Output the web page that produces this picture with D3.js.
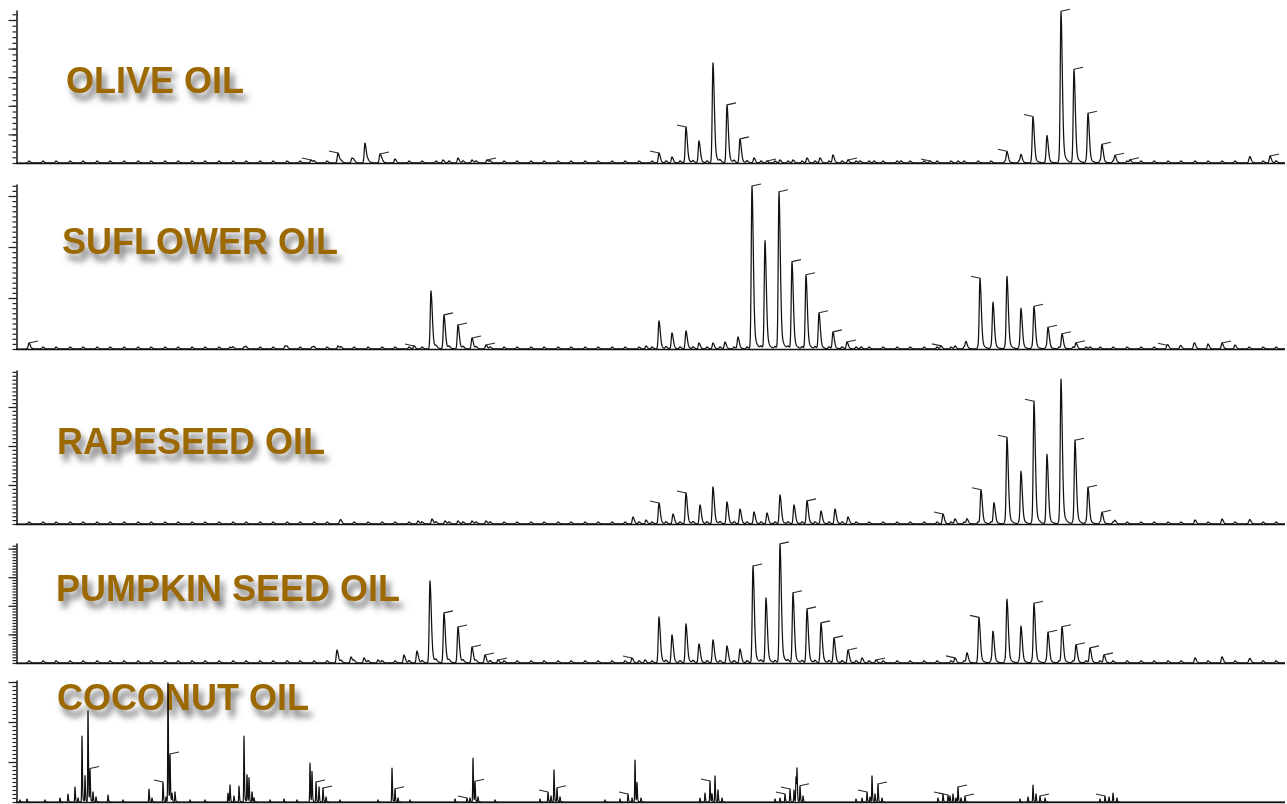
<!DOCTYPE html>
<html>
<head>
<meta charset="utf-8">
<script src="https://cdn.jsdelivr.net/npm/d3@7"></script>
<style>
  html, body { margin: 0; padding: 0; background: #ffffff; }
  svg { display: block; }
</style>
</head>
<body>
<svg id="chart" width="1287" height="804"></svg>
<script>
// Peak tables: [scan, abundance, integration mark side (-1 left, 1 right, 0 none)]
const olivePeaks = [
  [295,1.5,-1],[322,5,-1],[336,2.5,0],[349,10,0],[364,4.5,1],[379,1,0],[427,1.5,0],[442,2.5,0],
  [456,1.5,0],[471,1.5,1],
  [643,5,-1],[656,3,0],[670,18,-1],[683,11,0],[697,50,0],[711,29,1],[724,12,1],[738,2.5,0],
  [751,1,1],[764,1.5,0],[777,1.5,0],[791,2.5,0],[804,2.5,0],[817,4,0],[832,1.5,1],[844,1,0],
  [858,1,0],[885,1,0],[914,1,-1],[942,1,0],
  [991,5.5,-1],[1005,4,0],[1017,22.5,-1],[1031,13,0],[1045,75.5,1],[1058,46,1],[1072,24.5,1],
  [1086,9,1],[1099,3.5,1],[1114,1.5,1],[1234,2.5,0],[1254,3.5,1]
];
const sunflowerPeaks = [
  [13,2,1],[214,1,0],[228,1,0],[269,1.5,0],[296,1,0],[322,1.5,0],[398,1.5,-1],
  [415,29,0],[428,17,1],[442,12,1],[456,5.5,1],[470,2,1],
  [630,1.5,0],[643,14,0],[656,8,0],[670,9,0],[683,3,0],[697,3,0],[709,3.5,0],[722,6,0],
  [736,81.5,1],[749,54,0],[763,78.5,1],[776,43.5,1],[790,37,1],[803,18,1],[817,8.5,1],
  [831,3.5,1],[845,1,0],
  [925,1.5,-1],[939,1.5,0],[950,3.5,0],[964,35,-1],[977,23,0],[991,36,0],[1005,20,0],
  [1018,21,1],[1032,10.5,1],[1046,7.5,1],[1060,3,1],[1074,1,0],
  [1151,1.5,-1],[1164,1,0],[1178,2.5,0],[1192,1.5,0],[1206,2,1],[1219,1,0]
];
const rapeseedPeaks = [
  [324,1.5,0],[402,1.5,0],[416,2.5,0],[429,1.5,0],[442,1.5,0],[456,1.5,0],[470,1.5,0],
  [617,3.5,0],[630,2,0],[643,10.5,-1],[657,5,0],[670,15.5,-1],[684,9.5,0],[697,18.5,0],
  [711,11,0],[724,7.5,0],[738,6,0],[751,5.5,0],[764,14.5,0],[778,9.5,0],[791,11.5,1],
  [805,6.5,0],[819,7.5,0],[832,3.5,0],
  [927,5,-1],[939,2.5,0],[951,2.5,0],[965,17,-1],[978,10.5,0],[991,43,-1],[1005,26,0],
  [1018,61,-1],[1031,34,0],[1045,72,0],[1059,41.5,1],[1072,18,1],[1086,5.5,1],[1099,1.5,0],
  [1179,1,0],[1206,1.5,0],[1234,1.5,0]
];
const pumpkinPeaks = [
  [321,6.5,0],[335,3,0],[348,2.5,0],[362,1.5,0],[388,4,0],[401,6,0],
  [414,41,0],[428,25,1],[442,18,1],[456,8,1],[469,4,1],[482,1.5,1],
  [616,2.5,-1],[629,1.5,0],[643,23,0],[656,14,0],[670,19.5,0],[683,9.5,0],[697,11.5,0],
  [711,8.5,0],[724,7,0],[737,48.5,1],[750,32.5,0],[764,59.5,1],[777,35,1],[791,27,1],
  [805,20,1],[818,12.5,1],[832,6.5,1],[846,2.5,0],[860,1.5,1],
  [939,2.5,-1],[951,5,0],[963,22,-1],[977,15.5,0],[991,31.5,0],[1005,18,0],[1018,29.5,1],
  [1032,15,1],[1046,18,1],[1060,9,1],[1074,7.5,1],[1088,4,1],
  [1179,1.5,0],[1206,2,0],[1234,1.5,0]
];
const coconutPeaks = [
  [4,1,0],[11,1.5,0],[29,1,0],[44,2,0],[52,4,0],[59,7.5,0],[62,2,0],[66,33,0],[69,13,0],
  [72,45.5,0],[74,16,1],[77,5,0],[80,2.5,0],[92,3.5,0],[107,1,0],
  [133,6.5,0],[136,2,0],[147,10,-1],[150,2.5,0],[152,59.5,0],[154,23,1],[156,4,0],[159,5,0],
  [174,1,0],[189,1,0],
  [212,4.5,0],[214,8.5,0],[218,3,0],[223,8,0],[228,33,0],[231,13.5,0],[233,12,0],[236,5,0],
  [238,2,0],[254,1,0],[268,1.5,0],
  [281,1,0],[294,19.5,0],[296,15,0],[300,10,1],[303,7.5,0],[307,7,1],[310,2.5,0],[324,1,0],
  [362,1,0],[376,17,0],[379,6.5,1],[382,2,0],[394,1,0],
  [439,1.5,0],[451,2,-1],[454,2,0],[457,22,0],[459,10,1],[462,2.5,0],[479,1,0],
  [524,1.5,0],[532,5,-1],[535,3,0],[538,16,0],[541,7,1],[544,2.5,0],
  [589,1,0],[604,1.5,0],[612,4,-1],[616,2,0],[619,21,0],[621,9.5,0],[625,2,0],
  [684,2,0],[689,4.5,0],[694,10.5,-1],[696,4,0],[699,13,0],[702,6,0],[706,2,0],
  [759,1.5,0],[764,2,0],[769,4,-1],[774,6.5,-1],[778,6,0],[780,12.5,0],[781,16,0],[784,8,1],[787,3,0],
  [840,1.5,0],[846,2,0],[851,5,-1],[854,2.5,0],[856,13,0],[859,4,0],[862,9,1],[866,2,0],
  [922,2,0],[927,4,-1],[932,3.5,-1],[934,3,0],[937,4,0],[940,2,0],[942,7.5,1],[945,2,0],[949,3,1],
  [1004,1.5,0],[1012,2.5,0],[1017,8.5,0],[1020,4,0],[1024,3,1],[1029,2,0],
  [1084,1.5,0],[1089,3,-1],[1093,2.5,0],[1097,4.5,0],[1101,2,0]
];
// small homologous-series bumps along the baseline of the FAME runs
const ladderScans = [13,27,40,54,67,81,94,108,122,135,149,162,176,189,203,217,230,244,257,271,
  284,298,311,325,338,352,366,379,393,406,420,433,447,460,474,488,501,515,528,542,555,569,582,
  596,609,623,636,650,664,677,691,704,718,731,745,759,772,786,799,813,826,840,853,867,881,894,
  908,921,935,948,962,975,989,1003,1016,1030,1043,1057,1070,1084,1097,1111,1125,1138,1152,1165,
  1179,1192,1206,1219,1233,1247,1260];
const ladderAbundance = [1.0, 1.0, 1.0, 1.1];

const panelNames = ["OLIVE OIL", "SUFLOWER OIL", "RAPESEED OIL", "PUMPKIN SEED OIL", "COCONUT OIL"];
const panelPeaks = [olivePeaks, sunflowerPeaks, rapeseedPeaks, pumpkinPeaks, coconutPeaks];
const fullScale = [76.5, 82.5, 77, 60, 61];
const minorTickStep = [2.86, 2.55, 1.95, 1.43, 2.0];
const majorTickEvery = [5, 10, 10, 10, 10];
const scanRange = [0, 1269];

// ---- layout ----
const frames = [
  {top: 10, base: 163}, {top: 184, base: 349}, {top: 370, base: 524},
  {top: 543, base: 663}, {top: 680, base: 802}
];
const labelPos = [{x: 66, y: 93}, {x: 62, y: 254}, {x: 57, y: 454}, {x: 56, y: 601}, {x: 57, y: 710}];
const axisX = 16, axisRight = 1285;

const svg = d3.select("#chart");
const defs = svg.append("defs");
const f = defs.append("filter").attr("id", "labelShadow")
  .attr("x", "-10%").attr("y", "-40%").attr("width", "130%").attr("height", "200%");
f.append("feGaussianBlur").attr("in", "SourceAlpha").attr("stdDeviation", 3.2).attr("result", "blur");
f.append("feOffset").attr("in", "blur").attr("dx", 4).attr("dy", 7).attr("result", "off");
f.append("feFlood").attr("flood-color", "#5e5e5e").attr("flood-opacity", 0.85);
f.append("feComposite").attr("in2", "off").attr("operator", "in").attr("result", "shadow");
const fm = f.append("feMerge");
fm.append("feMergeNode").attr("in", "shadow");
fm.append("feMergeNode").attr("in", "SourceGraphic");

const x = d3.scaleLinear().domain(scanRange).range([axisX, axisRight]);

// tailing peak profile (fast rise, exponential tail)
function profile(dx, p) {
  if (dx < 0) return Math.exp(-dx * dx / (2 * p.sL * p.sL));
  return (1 - p.frac) * Math.exp(-dx * dx / (2 * p.sR * p.sR)) + p.frac * Math.exp(-dx / p.tau);
}
const fameShape = {sL: 0.75, sR: 1.3, frac: 0.22, tau: 2.6, reach: 20, step: 0.25};
const spikeShape = {sL: 0.28, sR: 0.4, frac: 0.15, tau: 0.9, reach: 6, step: 0.1};

function signal(s, peaks, shape) {
  let v = 0;
  for (const pk of peaks) {
    const dx = s - pk[0];
    if (dx < -shape.reach || dx > shape.reach * 2) continue;
    v += pk[1] * profile(dx, shape);
  }
  return v;
}

panelNames.forEach((name, i) => {
  const fr = frames[i];
  const y = d3.scaleLinear().domain([0, fullScale[i]]).range([fr.base, fr.top]);
  const g = svg.append("g");
  const isSpikes = i === 4;
  const shape = isSpikes ? spikeShape : fameShape;

  let peaks = panelPeaks[i].slice();
  if (!isSpikes) peaks = peaks.concat(ladderScans.map(s => [s, ladderAbundance[i], 0]));

  // label behind the trace
  g.append("text")
    .attr("x", labelPos[i].x).attr("y", labelPos[i].y)
    .attr("font-family", "'Liberation Sans', Arial, sans-serif")
    .attr("font-weight", "bold").attr("font-size", 36)
    .attr("fill", "#9b6900")
    .attr("filter", "url(#labelShadow)")
    .text(name);

  // y axis: minor and major ticks without labels
  const maxV = fullScale[i];
  const minor = d3.range(0, maxV + 1e-6, minorTickStep[i]);
  const major = minor.filter((d, k) => k % majorTickEvery[i] === 0 && k > 0);
  const yAxisMinor = d3.axisLeft(y).tickValues(minor).tickSize(4).tickSizeOuter(0).tickFormat("");
  const yAxisMajor = d3.axisLeft(y).tickValues(major).tickSize(8).tickSizeOuter(0).tickFormat("");
  const ga = g.append("g").attr("transform", `translate(${axisX + 0.5},0)`).call(yAxisMinor);
  const gb = g.append("g").attr("transform", `translate(${axisX + 0.5},0)`).call(yAxisMajor);
  gb.select(".domain").remove();
  ga.select(".domain").attr("stroke", "#111").attr("stroke-width", 1.5);
  [ga, gb].forEach(a => a.selectAll(".tick line").attr("stroke", "#222").attr("stroke-width", 1.2));

  // trace
  const pts = [];
  for (let s = scanRange[0]; s <= scanRange[1]; s += shape.step) {
    pts.push([s, signal(s, peaks, shape)]);
  }
  const line = d3.line().x(d => x(d[0])).y(d => y(Math.min(d[1], maxV)));
  g.append("path").datum(pts)
    .attr("d", line)
    .attr("fill", "none")
    .attr("stroke", "#111")
    .attr("stroke-width", isSpikes ? 1.2 : 1.25)
    .attr("stroke-linejoin", "round");

  // baseline
  g.append("line")
    .attr("x1", x(scanRange[0])).attr("x2", x(scanRange[1]))
    .attr("y1", y(0) + 0.5).attr("y2", y(0) + 0.5)
    .attr("stroke", "#111").attr("stroke-width", 1.6);

  // integration marks at the apex of integrated peaks
  const marked = panelPeaks[i].filter(p => p[2] !== 0);
  g.selectAll("path.mark").data(marked).join("path")
    .attr("class", "mark")
    .attr("d", p => {
      const v = signal(p[0], peaks, shape);
      const x0 = x(p[0]), y0 = y(Math.min(v, maxV));
      return `M${x0},${y0}L${x0 + p[2] * 9},${y0 - 2}`;
    })
    .attr("fill", "none")
    .attr("stroke", "#2a2a2a")
    .attr("stroke-width", 1.1);
});
</script>
</body>
</html>
